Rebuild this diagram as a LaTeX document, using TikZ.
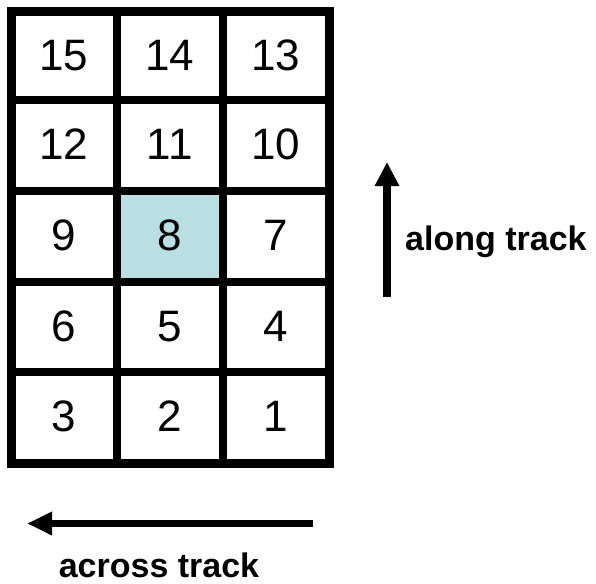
\documentclass[tikz,border=0pt]{standalone}
\usepackage{fontspec}
\setmainfont{Liberation Sans}
\usetikzlibrary{arrows.meta}
\definecolor{cellblue}{HTML}{B9DFE3}
\tikzset{
  num/.style={font=\fontsize{44}{44}\selectfont, anchor=base, inner sep=0pt},
  lab/.style={font=\fontsize{34}{34}\selectfont\bfseries, inner sep=0pt},
  gridline/.style={line width=8pt, black},
  bigarrow/.style={line width=8pt, -{Triangle[length=24pt,width=23pt]}}
}
\begin{document}
\begin{tikzpicture}[x=1pt,y=-1pt]
\useasboundingbox (0,0) rectangle (596,583);
% highlighted cell 8
\fill[cellblue] (116.5,191) rectangle (223,282);
% grid
\foreach \yy in {100.5,191,282,372}
  \draw[gridline] (11.5,\yy) -- (329,\yy);
\foreach \xx in {116.5,223}
  \draw[gridline] (\xx,12) -- (\xx,463);
\draw[line width=9pt, line join=miter] (11.5,12) rectangle (329,463);
% numbers
\def\cA{64}\def\cB{169.75}\def\cC{276}
\node[num] (n15) at (\cA,70.25) {15};
\node[num] (n14) at (\cB,70.25) {14};
\node[num] (n13) at (\cC,70.25) {13};
\node[num] (n12) at (\cA,159.75) {12};
\node[num] (n11) at (\cB,159.75) {11};
\node[num] (n10) at (\cC,159.75) {10};
\node[num] (n9) at (\cA,250.5) {9};
\node[num] (n8) at (\cB,250.5) {8};
\node[num] (n7) at (\cC,250.5) {7};
\node[num] (n6) at (\cA,341) {6};
\node[num] (n5) at (\cB,341) {5};
\node[num] (n4) at (\cC,341) {4};
\node[num] (n3) at (\cA,431.5) {3};
\node[num] (n2) at (\cB,431.5) {2};
\node[num] (n1) at (\cC,431.5) {1};
% arrows
\coordinate (alongS) at (387,297);
\coordinate (alongE) at (387,162);
\draw[bigarrow] (alongS) -- (alongE);
\node[lab, anchor=base west] (along) at (405,250) {along track};
\coordinate (acrossS) at (313,523.5);
\coordinate (acrossE) at (27,523.5);
\draw[line width=7pt, -{Triangle[length=25pt,width=22pt]}] (acrossS) -- (acrossE);
\node[lab, anchor=base] (across) at (159,577) {across track};
\end{tikzpicture}
\end{document}
